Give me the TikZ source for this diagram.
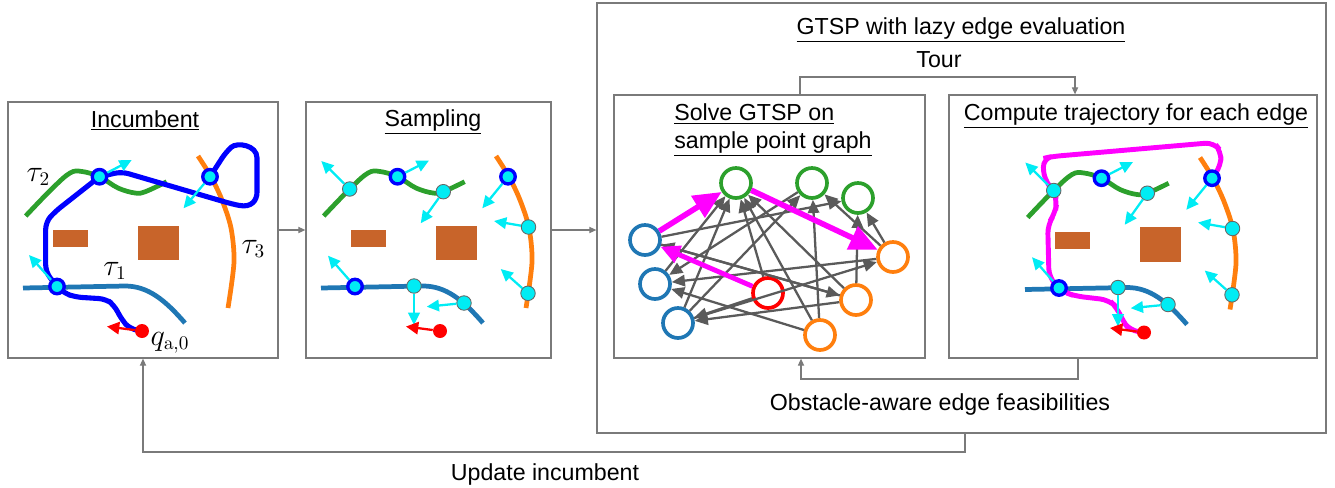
\documentclass[tikz,border=0pt]{standalone}
\usepackage[no-math]{fontspec}
\setmainfont{Liberation Sans}
\usepackage{tikz}
\usetikzlibrary{positioning, fit, calc, arrows.meta, backgrounds}
\definecolor{tabblue}{HTML}{1F77B4}
\definecolor{tabgreen}{HTML}{2CA02C}
\definecolor{taborange}{HTML}{FF7F0E}
\definecolor{obst}{HTML}{C8642A}
\definecolor{sampcyan}{HTML}{00ECF4}
\definecolor{boxgray}{HTML}{7A7A7A}
\definecolor{edgegray}{HTML}{5A5A5A}
\definecolor{tourpink}{HTML}{FF00FF}
\definecolor{pathblue}{HTML}{0000FF}
\definecolor{startred}{HTML}{FF0000}
\tikzset{
	panel/.style={
			draw=boxgray,
			line width=0.7pt,
			inner sep=0pt
		},
	title/.style={
			font=\fontsize{13.2pt}{15.7pt}\selectfont,
			anchor=base,
			inner sep=0pt
		},
	flow/.style={
			draw=boxgray,
			line width=0.7pt,
			-{Triangle[length=4pt,width=3.5pt]}
		},
	traj/.style={
			line width=2.7pt
		},
	mathlabel/.style={
			font=\fontsize{16pt}{18pt}\selectfont
		},
	plainnode/.style={
			circle,
			draw=black!60,
			fill=sampcyan,
			line width=0.5pt,
			minimum size=0.29cm,
			inner sep=0pt
		},
	chosennode/.style={
			plainnode,
			draw=pathblue,
			line width=1.9pt
		},
	dirarrow/.style={
			draw=sampcyan,
			line width=1.3pt,
			-{Triangle[length=7pt,width=6.5pt]}
		},
	startnode/.style={
			circle,
			fill=startred,
			minimum size=0.28cm,
			inner sep=0pt
		},
	startarrow/.style={
			draw=startred,
			line width=1.3pt,
			-{Triangle[length=7pt,width=7pt]}
		},
	gnode/.style={
			circle,
			line width=2.1pt,
			minimum size=0.6cm,
			inner sep=0pt
		},
	gedge/.style={
			draw=edgegray,
			line width=1.3pt,
			-{Triangle[length=7.5pt,width=6.5pt]}
		},
	touredge/.style={
			draw=tourpink,
			line width=3.2pt,
			-{Triangle[length=16pt,width=14pt]}
		},
	tourthin/.style={
			draw=tourpink,
			line width=2.8pt,
			-{Triangle[length=11pt,width=10pt]}
		}
}

% obstacles and the three target curves
\newcommand{\drawworld}{%
  \fill[obst] (52.7,230) rectangle (87.7,247.3);
  \fill[obst] (138.3,225.7) rectangle (179,260);
  \draw[traj, tabblue] (23,288) -- (125,286) .. controls (148,286) and (165,300) .. (185,323);
  \draw[traj, tabgreen] plot[smooth, tension=0.6] coordinates {(25.7,216) (51.7,189) (70,173) (82,171.5) (99.5,176.7) (118,188) (135,193) (145.3,191.7) (166.7,181.7)};
  \draw[traj, taborange] plot[smooth] coordinates {(198,156) (211,176.7) (222,200) (231,228) (234,262) (228,308)};
}

% sample points with their headings
\newcommand{\samplepts}[1]{%
  \foreach \nm/\sty/\pos/\tip in {%
      g1/plainnode/{51.7,189}/{23.3,161},
      g2/chosennode/{99.5,176.7}/{131,160.5},
      g3/plainnode/{145.3,191.7}/{122.7,223.3},
      o1/chosennode/{210,176.7}/{184.3,208.3},
      o2/plainnode/{230.5,227}/{196,221},
      o3/plainnode/{230,293.3}/{202.7,269},
      b1/chosennode/{57,286.5}/{30,255.7},
      b2/plainnode/{116,286}/{116,325},
      b3/plainnode/{166,303}/{128.7,306.7}}{%
    \node[\sty] (#1\nm) at (\pos) {};
    \coordinate (#1\nm tip) at (\tip);
    \draw[dirarrow] (#1\nm) -- (#1\nm tip);
  }%
  \node[startnode] (#1start) at (142,331) {};
  \coordinate (#1starttip) at (108,326.5);
  \draw[startarrow] (#1start) -- (#1starttip);
}

\begin{document}
\begin{tikzpicture}[x=0.02cm, y=-0.02cm]
\useasboundingbox (0,0) rectangle (1335,487);

% panels
\node[panel, fit={(8,102) (278,358)}] (inc) {};
\node[panel, fit={(306,102) (551,358)}] (samp) {};
\node[panel, fit={(597,3) (1326,433)}] (gtsp) {};
\node[panel, fit={(614,95) (925,358)}] (solve) {};
\node[panel, fit={(949,95) (1317,358)}] (comp) {};

\node[title] (inctitle) at (145,127) {\underline{Incumbent}};
\node[title] (samptitle) at (433,126) {\underline{Sampling}};
\node[title] (gtsptitle) at (961,34) {\underline{GTSP with lazy edge evaluation}};
\node[title, anchor=base west, align=left] (solvetitle) at (674,148.5) {\underline{Solve GTSP on}\\\underline{sample point graph}};
\node[title] (comptitle) at (1136,120) {\underline{Compute trajectory for each edge}};
\node[title] (tour) at (939,67) {Tour};
\node[title] (feas) at (940,410) {Obstacle-aware edge feasibilities};
\node[title] (upd) at (545,480) {Update incumbent};

% connectors between panels
\coordinate (tourl) at (800,77);
\coordinate (tourr) at (1075,77);
\coordinate (feasl) at (801,379);
\coordinate (feasr) at (1078,379);
\coordinate (updl) at (143,452);
\coordinate (updr) at (965,452);
\draw[flow] (inc) -- (samp);
\draw[flow] (samp.east) -- (samp.east -| gtsp.west);
\draw[flow] (solve.north -| tourl) -- (tourl) -- (tourr) -- (comp.north -| tourr);
\draw[flow] (comp.south -| feasr) -- (feasr) -- (feasl) -- (solve.south -| feasl);
\draw[flow] (gtsp.south -| updr) -- (updr) -- (updl) -- (inc.south);

% incumbent
\drawworld
\draw[pathblue, line width=2.9pt, rounded corners=4pt] (142,331) -- (130,329) -- (122,320) -- (114,305) -- (106,299) -- (75,297) -- (64,293) -- (57,286.5) -- (45.7,272) -- (45.7,222) -- (55,211.7) -- (99.5,176.7) -- (121.7,171.7) -- (232,204) .. controls (252,208) and (257,200) .. (257,185) -- (257,165) .. controls (257,145) and (237,142) .. (226,152) -- (210,176.7);
\foreach \nm/\pos/\tip in {g2/{99.5,176.7}/{131.7,160}, o1/{210,176.7}/{183.5,208.3}, b1/{57,286.5}/{29,255}}{
  \node[chosennode] (i\nm) at (\pos) {};
  \coordinate (i\nm tip) at (\tip);
  \draw[dirarrow] (i\nm) -- (i\nm tip);
}
\node[startnode] (istart) at (142,331) {};
\coordinate (istarttip) at (107,326.5);
\draw[startarrow] (istart) -- (istarttip);
\node[mathlabel] (tau1) at (115,271) {$\tau_1$};
\node[mathlabel] (tau2) at (38.3,177) {$\tau_2$};
\node[mathlabel] (tau3) at (253.3,249) {$\tau_3$};
\node[mathlabel] (qa0) at (170,343) {$q_{\mathrm{a},0}$};

% sampling
\begin{scope}[shift={(298,0)}]
\drawworld
\samplepts{s}
\end{scope}

% trajectories
\begin{scope}[shift={(1002,1.5)}]
\drawworld
\draw[tourpink, line width=2.8pt, rounded corners=5pt] (142,331) -- (128,329) -- (121,320) -- (115,306) -- (107,298.5) -- (73,294.5) -- (63,291) -- (57,286.5) -- (47,276) -- (45.7,223) -- (53,212) -- (55,200) -- (51.7,189) -- (42,178) -- (41,157) -- (50,155) -- (212,141) -- (219,150) -- (219,164) -- (210,176.7);
\samplepts{c}
\end{scope}

% sample point graph
\node[gnode, draw=tabgreen] (g1) at (736,183) {};
\node[gnode, draw=tabgreen] (g2) at (812,183) {};
\node[gnode, draw=tabgreen] (g3) at (858,198) {};
\node[gnode, draw=tabblue] (b1) at (645,240) {};
\node[gnode, draw=tabblue] (b2) at (655,284) {};
\node[gnode, draw=tabblue] (b3) at (678,323) {};
\node[gnode, draw=startred] (r) at (768,293) {};
\node[gnode, draw=taborange] (o1) at (893,257) {};
\node[gnode, draw=taborange] (o2) at (856,300) {};
\node[gnode, draw=taborange] (o3) at (820,335) {};

\foreach \a/\b in {b2/g1, b3/g1, r/g1, o2/g1, o3/g1, b3/g2, o3/g2, o1/g2, b1/g3, o2/g3, o1/g3, o2/b1, g2/b2, o1/b2, o3/b2, r/b3, o2/b3, b3/o1, b1/o2}
  \draw[gedge] (\a) -- (\b);

\draw[touredge] (b1) -- (g1);
\draw[touredge] (g1) -- (o1);
\draw[tourthin] (r) -- (b1);
\end{tikzpicture}
\end{document}
